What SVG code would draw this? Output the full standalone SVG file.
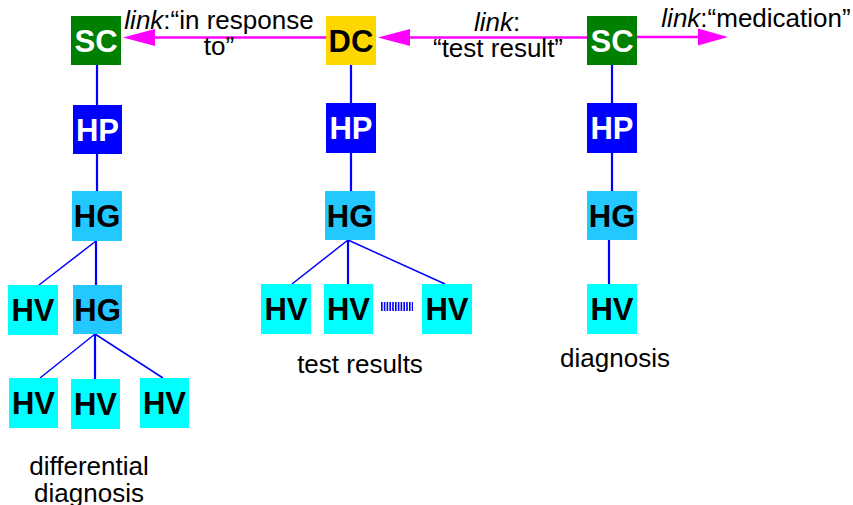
<svg xmlns="http://www.w3.org/2000/svg" width="853" height="505" viewBox="0 0 853 505">
  <defs>
    <style>
      .box text { font-family: "Liberation Sans", Arial, sans-serif; font-weight: bold; font-size: 31px; text-anchor: middle; }
      .sc rect { fill: #008000; }
      .sc text, .hp text { fill: #ffffff; }
      .dc rect { fill: #ffd700; }
      .hp rect { fill: #0000ff; }
      .hg rect { fill: #22c8ff; }
      .hv rect { fill: #00ffff; }
      .dc text, .hg text, .hv text { fill: #000000; }
      .tree { stroke: #0000ff; fill: none; }
      .tree .v { stroke-width: 2.2; }
      .tree .d { stroke-width: 1.5; }
      .link { stroke: #ff00ff; stroke-width: 2.5; fill: none; }
      .head { fill: #ff00ff; }
      .lbl { font-family: "Liberation Sans", Arial, sans-serif; font-size: 26px; fill: #000000; text-anchor: middle; }
      .lbl .it { font-style: italic; }
    </style>
  </defs>

  <!-- connectors -->
  <g id="connectors">
    <g class="tree">
      <!-- left column -->
      <line class="v" x1="97" y1="65" x2="97" y2="105"/>
      <line class="v" x1="97" y1="154" x2="97" y2="191"/>
      <line class="d" x1="96" y1="241" x2="39" y2="285"/>
      <line class="v" x1="96" y1="241" x2="96" y2="285"/>
      <line class="d" x1="95" y1="334" x2="40" y2="378"/>
      <line class="v" x1="95" y1="334" x2="95" y2="380"/>
      <line class="d" x1="95" y1="334" x2="163" y2="378"/>
      <!-- middle column -->
      <line class="v" x1="351" y1="65" x2="351" y2="103"/>
      <line class="v" x1="351" y1="153" x2="351" y2="191"/>
      <line class="d" x1="348" y1="240" x2="292" y2="284"/>
      <line class="v" x1="348" y1="240" x2="348" y2="284"/>
      <line class="d" x1="348" y1="240" x2="445" y2="284"/>
      <!-- elided siblings -->
      <line x1="381" y1="306.5" x2="413" y2="306.5" stroke="#0000ff" stroke-width="9" stroke-dasharray="1.6 1.2"/>
      <!-- right column -->
      <line class="v" x1="612" y1="65" x2="612" y2="103"/>
      <line class="v" x1="612" y1="153" x2="612" y2="191"/>
      <line class="v" x1="609" y1="240" x2="609" y2="284"/>
    </g>
    <!-- links -->
    <line class="link" x1="326" y1="37.5" x2="150" y2="37.5"/>
    <polygon class="head" points="123,37.5 155,29 155,46"/>
    <line class="link" x1="587" y1="37.5" x2="405" y2="37.5"/>
    <polygon class="head" points="378,37.5 410,29 410,46"/>
    <line class="link" x1="637" y1="37" x2="702" y2="37"/>
    <polygon class="head" points="728,37 698,28.5 698,45.5"/>
  </g>

  <!-- link labels -->
  <g id="labels">
    <text class="lbl" x="219" y="29"><tspan class="it">link</tspan>:“in response</text>
    <text class="lbl" x="219" y="55">to”</text>
    <text class="lbl" x="497" y="31"><tspan class="it">link</tspan>:</text>
    <text class="lbl" x="498" y="57">“test result”</text>
    <text class="lbl" x="756" y="27"><tspan class="it">link</tspan>:“medication”</text>
    <text class="lbl" x="360" y="373">test results</text>
    <text class="lbl" x="615" y="367">diagnosis</text>
    <text class="lbl" x="89" y="475">differential</text>
    <text class="lbl" x="89" y="502">diagnosis</text>
  </g>

  <!-- nodes -->
  <g id="sc-left" class="box sc"><rect x="71" y="16" width="50" height="49"/><text x="96" y="51.5">SC</text></g>
  <g id="dc" class="box dc"><rect x="326" y="16" width="50" height="49"/><text x="351" y="51.5">DC</text></g>
  <g id="sc-right" class="box sc"><rect x="587" y="16" width="50" height="49"/><text x="612" y="51.5">SC</text></g>

  <g id="hp-left" class="box hp"><rect x="73" y="105" width="49" height="49"/><text x="97.5" y="140.5">HP</text></g>
  <g id="hp-mid" class="box hp"><rect x="326" y="103" width="50" height="50"/><text x="351" y="139">HP</text></g>
  <g id="hp-right" class="box hp"><rect x="587" y="103" width="50" height="50"/><text x="612" y="139">HP</text></g>

  <g id="hg-left" class="box hg"><rect x="72" y="191" width="50" height="50"/><text x="97" y="227">HG</text></g>
  <g id="hg-mid" class="box hg"><rect x="325" y="191" width="50" height="49"/><text x="350" y="226.5">HG</text></g>
  <g id="hg-right" class="box hg"><rect x="587" y="191" width="50" height="49"/><text x="612" y="226.5">HG</text></g>

  <g id="hv-left" class="box hv"><rect x="8" y="285" width="50" height="50"/><text x="33" y="321">HV</text></g>
  <g id="hg-left-2" class="box hg"><rect x="73" y="285" width="49" height="49"/><text x="97.5" y="320.5">HG</text></g>

  <g id="hv-left-a" class="box hv"><rect x="9" y="378" width="49" height="50"/><text x="33.5" y="414">HV</text></g>
  <g id="hv-left-b" class="box hv"><rect x="71" y="379" width="49" height="50"/><text x="95.5" y="415">HV</text></g>
  <g id="hv-left-c" class="box hv"><rect x="140" y="378" width="49" height="50"/><text x="164.5" y="414">HV</text></g>

  <g id="hv-mid-a" class="box hv"><rect x="261" y="284" width="50" height="50"/><text x="286" y="320">HV</text></g>
  <g id="hv-mid-b" class="box hv"><rect x="324" y="284" width="49" height="50"/><text x="348.5" y="320">HV</text></g>
  <g id="hv-mid-c" class="box hv"><rect x="422" y="284" width="50" height="50"/><text x="447" y="320">HV</text></g>

  <g id="hv-right" class="box hv"><rect x="587" y="284" width="50" height="50"/><text x="612" y="320">HV</text></g>
</svg>
